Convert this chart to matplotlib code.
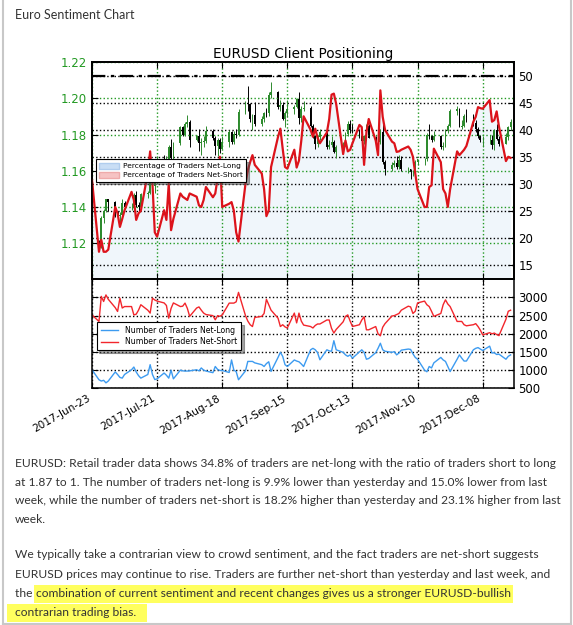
import numpy as np
import pandas as pd
import matplotlib
matplotlib.use("Agg")
import matplotlib.pyplot as plt
import matplotlib.dates as mdates
from matplotlib.patches import Patch, Rectangle
from matplotlib.lines import Line2D
from datetime import datetime

# ---- data (one value per trading day) ----
dates = pd.bdate_range("2017-06-23", "2017-12-20")

first_open = 1.1150
close = [1.1195,
         1.1185, 1.1337, 1.1375, 1.1442, 1.1426,
         1.1365, 1.1350, 1.1353, 1.1424, 1.1400,
         1.1400, 1.1465, 1.1413, 1.1398, 1.1470,
         1.1478, 1.1557, 1.1516, 1.1633, 1.1665,
         1.1643, 1.1649, 1.1734, 1.1677, 1.1752,
         1.1843, 1.1800, 1.1858, 1.1870, 1.1773,
         1.1792, 1.1753, 1.1759, 1.1765, 1.1821,
         1.1779, 1.1735, 1.1770, 1.1723, 1.1761,
         1.1813, 1.1762, 1.1806, 1.1799, 1.1924,
         1.1977, 1.1970, 1.1885, 1.1910, 1.1859,
         1.1885, 1.1919, 1.1917, 1.2021, 1.2035,
         1.1951, 1.1966, 1.1886, 1.1922, 1.1944,
         1.1952, 1.1995, 1.1893, 1.1940, 1.1950,
         1.1846, 1.1793, 1.1750, 1.1786, 1.1814,
         1.1733, 1.1741, 1.1761, 1.1705, 1.1730,
         1.1740, 1.1805, 1.1858, 1.1825, 1.1821,
         1.1790, 1.1765, 1.1790, 1.1849, 1.1783,
         1.1758, 1.1762, 1.1815, 1.1650, 1.1608,
         1.1630, 1.1645, 1.1620, 1.1657, 1.1608,
         1.1608, 1.1592, 1.1592, 1.1651, 1.1664,
         1.1664, 1.1797, 1.1790, 1.1772, 1.1792,
         1.1732, 1.1737, 1.1822, 1.1850, 1.1932,
         1.1941, 1.1843, 1.1845, 1.1904, 1.1897,
         1.1866, 1.1829, 1.1795, 1.1771, 1.1771,
         1.1772, 1.1740, 1.1825, 1.1778, 1.1750,
         1.1785, 1.1841, 1.1870]

high = [1.1205,
        1.1215, 1.1350, 1.1390, 1.1445, 1.1445,
        1.1432, 1.1380, 1.1370, 1.1445, 1.1435,
        1.1420, 1.1480, 1.1490, 1.1430, 1.1480,
        1.1490, 1.1585, 1.1565, 1.1650, 1.1680,
        1.1685, 1.1680, 1.1745, 1.1775, 1.1760,
        1.1850, 1.1845, 1.1870, 1.1910, 1.1880,
        1.1800, 1.1830, 1.1780, 1.1790, 1.1845,
        1.1830, 1.1790, 1.1780, 1.1780, 1.1790,
        1.1825, 1.1820, 1.1820, 1.1830, 1.1940,
        1.1985, 1.2070, 1.1975, 1.1915, 1.1980,
        1.1905, 1.1925, 1.1950, 1.2035, 1.2092,
        1.2040, 1.1990, 1.1980, 1.1930, 1.1990,
        1.1965, 1.2000, 1.2035, 1.1960, 1.1985,
        1.1960, 1.1860, 1.1800, 1.1800, 1.1830,
        1.1820, 1.1770, 1.1790, 1.1770, 1.1740,
        1.1760, 1.1815, 1.1875, 1.1880, 1.1860,
        1.1830, 1.1800, 1.1800, 1.1860, 1.1860,
        1.1790, 1.1780, 1.1830, 1.1860, 1.1660,
        1.1650, 1.1660, 1.1680, 1.1690, 1.1680,
        1.1620, 1.1610, 1.1605, 1.1660, 1.1665,
        1.1670, 1.1810, 1.1860, 1.1800, 1.1820,
        1.1800, 1.1760, 1.1830, 1.1860, 1.1940,
        1.1960, 1.1945, 1.1880, 1.1915, 1.1940,
        1.1915, 1.1880, 1.1840, 1.1800, 1.1790,
        1.1800, 1.1800, 1.1830, 1.1860, 1.1790,
        1.1810, 1.1850, 1.1885]

low = [1.1130,
       1.1170, 1.1175, 1.1310, 1.1370, 1.1380,
       1.1345, 1.1335, 1.1312, 1.1342, 1.1390,
       1.1385, 1.1380, 1.1400, 1.1375, 1.1390,
       1.1450, 1.1470, 1.1510, 1.1480, 1.1620,
       1.1625, 1.1610, 1.1640, 1.1660, 1.1665,
       1.1740, 1.1790, 1.1795, 1.1840, 1.1730,
       1.1765, 1.1710, 1.1690, 1.1730, 1.1755,
       1.1770, 1.1690, 1.1680, 1.1700, 1.1720,
       1.1730, 1.1750, 1.1750, 1.1780, 1.1790,
       1.1915, 1.1930, 1.1870, 1.1825, 1.1850,
       1.1850, 1.1870, 1.1900, 1.1905, 1.2000,
       1.1940, 1.1930, 1.1880, 1.1840, 1.1900,
       1.1915, 1.1950, 1.1860, 1.1870, 1.1930,
       1.1840, 1.1780, 1.1720, 1.1730, 1.1770,
       1.1720, 1.1720, 1.1730, 1.1700, 1.1670,
       1.1720, 1.1735, 1.1790, 1.1810, 1.1810,
       1.1780, 1.1730, 1.1750, 1.1770, 1.1780,
       1.1730, 1.1740, 1.1750, 1.1640, 1.1575,
       1.1600, 1.1620, 1.1610, 1.1610, 1.1600,
       1.1590, 1.1555, 1.1570, 1.1580, 1.1630,
       1.1630, 1.1655, 1.1775, 1.1760, 1.1765,
       1.1720, 1.1715, 1.1730, 1.1810, 1.1840,
       1.1910, 1.1840, 1.1830, 1.1840, 1.1870,
       1.1850, 1.1815, 1.1780, 1.1760, 1.1730,
       1.1750, 1.1720, 1.1715, 1.1770, 1.1735,
       1.1750, 1.1770, 1.1825]

pct_long = [30.7,
            17.4, 19.6, 17.4, 17.4, 17.8,
            25.7, 24.5, 22.0, 23.5, 25.1,
            28.5, 27.0, 23.3, 24.5, 25.0,
            32.0, 36.0, 30.0, 21.0, 20.2,
            25.1, 23.3, 30.0, 21.4, 23.5,
            28.2, 27.6, 27.3, 27.0, 28.2,
            27.6, 26.0, 25.7, 27.0, 29.4,
            27.5, 28.2, 31.0, 35.0, 25.7,
            26.3, 26.6, 25.0, 21.0, 19.3,
            30.0, 32.5, 34.0, 35.3, 33.5,
            31.9, 29.0, 24.0, 25.1, 33.1,
            38.7, 40.2, 36.5, 33.1, 32.8,
            36.3, 33.0, 34.3, 38.0, 42.5,
            40.0, 38.7, 40.2, 38.5, 37.5,
            39.5, 42.0, 46.5, 46.7, 44.8,
            35.5, 38.0, 36.0, 36.3, 37.5,
            40.9, 40.5, 33.5, 39.5, 42.0,
            38.0, 35.3, 47.3, 42.4, 40.0,
            37.8, 37.5, 35.9, 36.0, 36.3,
            36.9, 36.3, 35.0, 31.9, 29.0,
            25.7, 25.7, 29.4, 29.7, 36.5,
            34.0, 29.0, 28.2, 25.7, 29.0,
            36.0, 35.3, 35.8, 36.3, 37.0,
            41.5, 42.4, 44.2, 44.0, 43.9,
            45.5, 41.5, 41.8, 43.4, 40.6,
            34.2, 35.0, 34.8]

n_short = [2520,
           2340, 3030, 2890, 3070, 2950,
           2720, 2615, 2980, 2710, 2750,
           2750, 2520, 2540, 2650, 2800,
           2650, 2570, 2980, 2930, 2900,
           2850, 2780, 2430, 2700, 2850,
           2750, 2760, 2845, 2700, 2480,
           2710, 2740, 2650, 2570, 2530,
           2500, 2385, 2500, 2480, 2520,
           2845, 2845, 2845, 2880, 3140,
           2500, 2350, 2250, 2200, 2450,
           2480, 2560, 2950, 2800, 2650,
           2430, 2200, 2250, 2190, 2160,
           2570, 2300, 2570, 2350, 2240,
           2200, 2160, 2230, 2270, 2270,
           2380, 2380, 2150, 2020, 2120,
           2330, 2480, 2520, 2350, 2200,
           2250, 2380, 2470, 2110, 2110,
           2200, 2000, 1945, 2180, 2280,
           2490, 2500, 2530, 2560, 2650,
           2760, 2740, 2560, 2620, 2850,
           2900, 2800, 2750, 2620, 2480,
           2560, 2800, 2935, 2820, 2750,
           2340, 2340, 2340, 2250, 2220,
           2250, 2280, 2200, 2100, 1970,
           2030, 2000, 2020, 1980, 1950,
           2400, 2620, 2650]

n_long = [1010,
          735, 700, 720, 650, 700,
          950, 880, 800, 780, 880,
          1010, 1085, 950, 850, 780,
          880, 1150, 880, 740, 760,
          920, 860, 780, 1000, 760,
          1000, 980, 975, 975, 980,
          1010, 980, 1060, 1000, 975,
          930, 1100, 1020, 990, 990,
          935, 1280, 1000, 960, 735,
          980, 1240, 1240, 1240, 1200,
          1150, 1100, 1180, 1230, 965,
          1350, 1490, 1380, 1150, 1100,
          1280, 1250, 1230, 1170, 1100,
          1560, 1600, 1560, 1480, 1285,
          1560, 1530, 1520, 1810, 1560,
          1490, 1420, 1380, 1420, 1330,
          1500, 1560, 1490, 1300, 1320,
          1480, 1600, 1740, 1560, 1520,
          1490, 1510, 1420, 1470, 1550,
          1580, 1570, 1450, 1350, 1300,
          1000, 955, 1100, 1060, 1200,
          1350, 1280, 1240, 1100, 960,
          1300, 1420, 1330, 1250, 1250,
          1560, 1600, 1620, 1580, 1540,
          1660, 1470, 1480, 1430, 1440,
          1300, 1380, 1420]

tick_dates = pd.date_range("2017-06-23", periods=7, freq="28D")
price_ticks = [1.12, 1.14, 1.16, 1.18, 1.20, 1.22]
pct_ticks = [15, 20, 25, 30, 35, 40, 45, 50]
count_ticks = [500, 1000, 1500, 2000, 2500, 3000]

page_title = "Euro Sentiment Chart"
chart_title = "EURUSD Client Positioning"
para_lines = [
    "EURUSD: Retail trader data shows 34.8% of traders are net-long with the ratio of traders short to long",
    "at 1.87 to 1. The number of traders net-long is 9.9% lower than yesterday and 15.0% lower from last",
    "week, while the number of traders net-short is 18.2% higher than yesterday and 23.1% higher from last",
    "week.",
    "We typically take a contrarian view to crowd sentiment, and the fact traders are net-short suggests",
    "EURUSD prices may continue to rise. Traders are further net-short than yesterday and last week, and",
]
line7_plain = "the "
line7_mark = "combination of current sentiment and recent changes gives us a stronger EURUSD-bullish"
line8_mark = "contrarian trading bias."

W, H = 573, 625
fig = plt.figure(figsize=(W / 100, H / 100), dpi=100)


def fx(px):
    return px / W


def fy(py):
    return 1 - py / H


# page frame
for (x0, y0, x1, y1) in [(2.5, 0, 2.5, 623.5), (570.5, 0, 570.5, 623.5), (2.5, 623.5, 570.5, 623.5)]:
    fig.add_artist(Line2D([fx(x0), fx(x1)], [fy(y0), fy(y1)], color="#c8c8c8", lw=1.5))

txt_col = "#333333"
fig.text(fx(15), fy(15), page_title, family="Lato", fontsize=9, color=txt_col, va="center")

tick_fs = 7.9

# ---- top panel ----
left, right = 92, 513.5
top1, bot1, bot2 = 62.3, 279.3, 388.3
ax = fig.add_axes([fx(left), fy(bot1), fx(right - left), fy(top1) - fy(bot1)])
ax_pct = ax.twinx()
ax_line = ax.twinx()
ax_pct.set_zorder(1)
ax.set_zorder(2)
ax_line.set_zorder(3)
ax.patch.set_visible(False)
ax_line.patch.set_visible(False)

pink = "#fde7e7"
blue = "#f0f6fb"
ax_pct.set_facecolor(pink)
ax_pct.fill_between(dates, 0, pct_long, color=blue, lw=0)
ax_pct.set_ylim(12.3, 52.5)
ax_pct.set_yticks(pct_ticks)
ax_pct.grid(axis="y", color="k", ls=":", lw=1.0)
ax_pct.tick_params(axis="y", direction="in", labelsize=tick_fs + 0.6, length=4)

opens = [first_open] + close[:-1]
up = [c >= o for o, c in zip(opens, close)]
cols = ["#2e8b2e" if u else "black" for u in up]
bottoms = [min(o, c) for o, c in zip(opens, close)]
heights = [abs(c - o) for o, c in zip(opens, close)]
ax.vlines(dates, low, high, colors=cols, lw=0.7)
ax.bar(dates, heights, bottom=bottoms, width=0.75, color=cols, lw=0)
ax.set_ylim(1.10, 1.22)
ax.set_yticks(price_ticks)
ax.yaxis.set_major_formatter(matplotlib.ticker.FormatStrFormatter("%.2f"))
ax.tick_params(axis="y", direction="in", labelsize=tick_fs + 0.6, labelcolor="#229922", length=4)
ax.tick_params(axis="x", direction="in", labelbottom=False, top=True, length=4)
ax.grid(True, color="#229922", ls=":", lw=1.0)

ax_line.plot(dates, pct_long, color="#dc131b", lw=1.6)
ax_line.axhline(50, color="black", lw=1.6, ls=(0, (6, 2.5, 1.5, 2.5)))
ax_line.set_ylim(ax_pct.get_ylim())
ax_line.yaxis.set_visible(False)
for a in (ax, ax_pct, ax_line):
    for s in a.spines.values():
        s.set_linewidth(1.1)

ax.set_title(chart_title, fontsize=9.8, pad=3)

leg1 = ax_line.legend(
    handles=[Patch(facecolor="#c9def5", edgecolor="#b0cdee", label="Percentage of Traders Net-Long"),
             Patch(facecolor="#f6c3c3", edgecolor="#eeaaaa", label="Percentage of Traders Net-Short")],
    loc="upper left", bbox_to_anchor=(0.009, 0.553), fontsize=5.4, frameon=True, fancybox=False,
    shadow=True, borderpad=0.45, labelspacing=0.3, handlelength=2.6, handleheight=0.9,
    handletextpad=0.6, borderaxespad=0)
leg1.get_frame().set_edgecolor("black")
leg1.get_frame().set_linewidth(0.8)
leg1.get_frame().set_alpha(1)

# ---- bottom panel ----
ax2 = fig.add_axes([fx(left), fy(bot2), fx(right - left), fy(bot1) - fy(bot2)], sharex=ax)
ax2.plot(dates, n_long, color="#3d9bf0", lw=1.0, label="Number of Traders Net-Long")
ax2.plot(dates, n_short, color="#f2262c", lw=1.0, label="Number of Traders Net-Short")
ax2.set_ylim(500, 3500)
ax2.set_yticks(count_ticks)
ax2.yaxis.tick_right()
ax2.tick_params(axis="y", direction="in", left=True, right=True, labelleft=False,
                labelright=True, labelsize=tick_fs + 0.6, length=4)
ax2.tick_params(axis="x", direction="in", top=True, labelsize=tick_fs - 0.3, length=4)
ax2.grid(True, color="k", ls=":", lw=1.0)
for s in ax2.spines.values():
    s.set_linewidth(1.1)

ax2.set_xlim(dates[0], datetime(2017, 12, 21, 6))
ax2.set_xticks(tick_dates)
ax2.xaxis.set_major_formatter(mdates.DateFormatter("%Y-%b-%d"))
for lab in ax2.get_xticklabels():
    lab.set_rotation(30)
    lab.set_ha("right")

leg2 = ax2.legend(loc="upper left", bbox_to_anchor=(0.011, 0.61), fontsize=5.6, fancybox=False,
                  shadow=True, borderpad=0.5, labelspacing=0.35, handlelength=2.2,
                  handletextpad=0.9, borderaxespad=0)
leg2.get_frame().set_edgecolor("black")
leg2.get_frame().set_linewidth(0.8)
leg2.get_frame().set_alpha(1)

# ---- article text ----
fs = 8.62
line_y = [463.3, 482.0, 500.7, 519.3, 555.0, 574.0]
for s, yy in zip(para_lines, line_y):
    fig.text(fx(15), fy(yy), s, family="Lato", fontsize=fs, color=txt_col, va="center")

hl = "#ffff5e"
fig.add_artist(Rectangle((fx(34), fy(603)), fx(513 - 34), fy(585) - fy(603), color=hl, lw=0, zorder=0))
fig.add_artist(Rectangle((fx(7), fy(622)), fx(147 - 7), fy(604) - fy(622), color=hl, lw=0, zorder=0))
fig.text(fx(15), fy(593.3), line7_plain, family="Lato", fontsize=fs, color=txt_col, va="center")
fig.text(fx(36), fy(593.3), line7_mark, family="Lato", fontsize=fs, color=txt_col, va="center")
fig.text(fx(15), fy(612.7), line8_mark, family="Lato", fontsize=fs, color=txt_col, va="center")

fig.savefig("out.png", dpi=100)
